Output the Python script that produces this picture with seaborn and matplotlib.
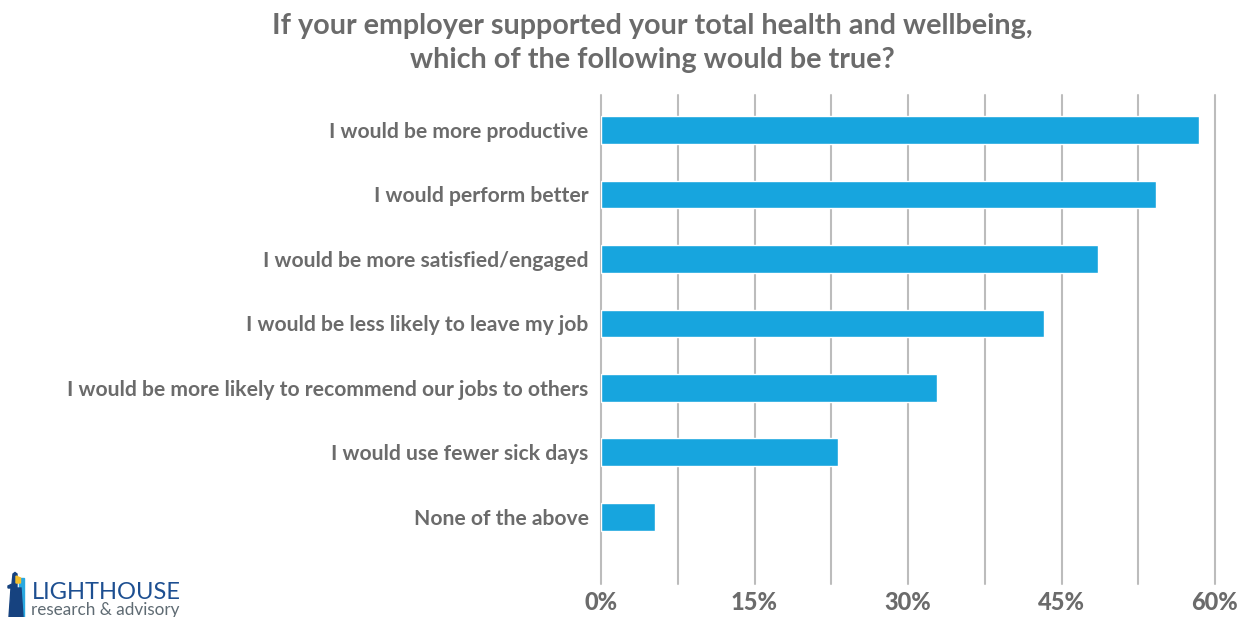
import matplotlib
matplotlib.use("Agg")
import matplotlib.pyplot as plt
from matplotlib.patches import Polygon
import pandas as pd
import seaborn as sns

statements = [
    "I would be more productive",
    "I would perform better",
    "I would be more satisfied/engaged",
    "I would be less likely to leave my job",
    "I would be more likely to recommend our jobs to others",
    "I would use fewer sick days",
    "None of the above",
]
shares = [58.4, 54.2, 48.6, 43.3, 32.8, 23.2, 5.3]
grid_steps = [0, 7.5, 15, 22.5, 30, 37.5, 45, 52.5, 60]
tick_labels = ["0%", "", "15%", "", "30%", "", "45%", "", "60%"]

sns.set_theme(style="white")
plt.rcParams["font.family"] = ["Lato", "DejaVu Sans"]

W, H = 1246, 617
GRAY = "#6b6b6b"
fig = plt.figure(figsize=(W / 100, H / 100), dpi=100, facecolor="white")
ax = fig.add_axes([601 / W, 1 - 584 / H, (1215 - 601) / W, (584 - 95) / H])

frame = pd.DataFrame({"statement": statements, "share": shares})
sns.barplot(data=frame, x="share", y="statement", color="#17a5de", saturation=1,
            width=0.43, ax=ax, zorder=3)

ax.set_xlim(0, 60)
ax.set_ylim(7.043, -0.543)
ax.set_xlabel("")
ax.set_ylabel("")
sns.despine(ax=ax, left=True, bottom=True)
ax.grid(False)
ax.set_axisbelow(True)
for g in grid_steps:
    ax.axvline(g, color="#bcbcbc", lw=1.5, zorder=1, clip_on=False)

ax.set_xticks(grid_steps, tick_labels)
ax.tick_params(axis="x", length=0, pad=5)
ax.tick_params(axis="y", length=0, pad=9)
for lab in ax.get_xticklabels():
    lab.set(fontsize=17, fontweight=900, color=GRAY)
for lab in ax.get_yticklabels():
    lab.set(fontsize=15.2, fontweight="bold", color=GRAY)

fig.text(652 / W, 1 - 43 / H,
         "If your employer supported your total health and wellbeing,\n"
         "which of the following would be true?",
         ha="center", va="center", fontsize=20.7, fontweight="bold",
         color=GRAY, linespacing=1.36)

# Company mark in the lower left corner
fig.text(32 / W, 1 - 599 / H, "LIGHTHOUSE", fontsize=17, color="#1d4f91", va="baseline")
fig.text(31 / W, 1 - 615.5 / H, "research & advisory", fontsize=12.3, color="#5f6b73", va="baseline")
icon = fig.add_axes([0, 0, 30 / W, 50 / H])
icon.set_xlim(0, 30)
icon.set_ylim(617, 567)
icon.axis("off")
icon.add_patch(Polygon([[19, 578], [24, 578], [24, 617], [19, 617]], color="#29a8e0"))
icon.add_patch(Polygon([[13, 574], [15, 572.5], [17, 574], [17, 588], [21, 588], [23, 617],
                        [9, 617], [11, 588], [8, 588], [8, 586], [12, 584]], color="#16427f"))
icon.add_patch(Polygon([[16, 576], [20.5, 578], [20.5, 583], [16, 583]], color="#f5c02c"))

fig.savefig("out.png", dpi=100)
